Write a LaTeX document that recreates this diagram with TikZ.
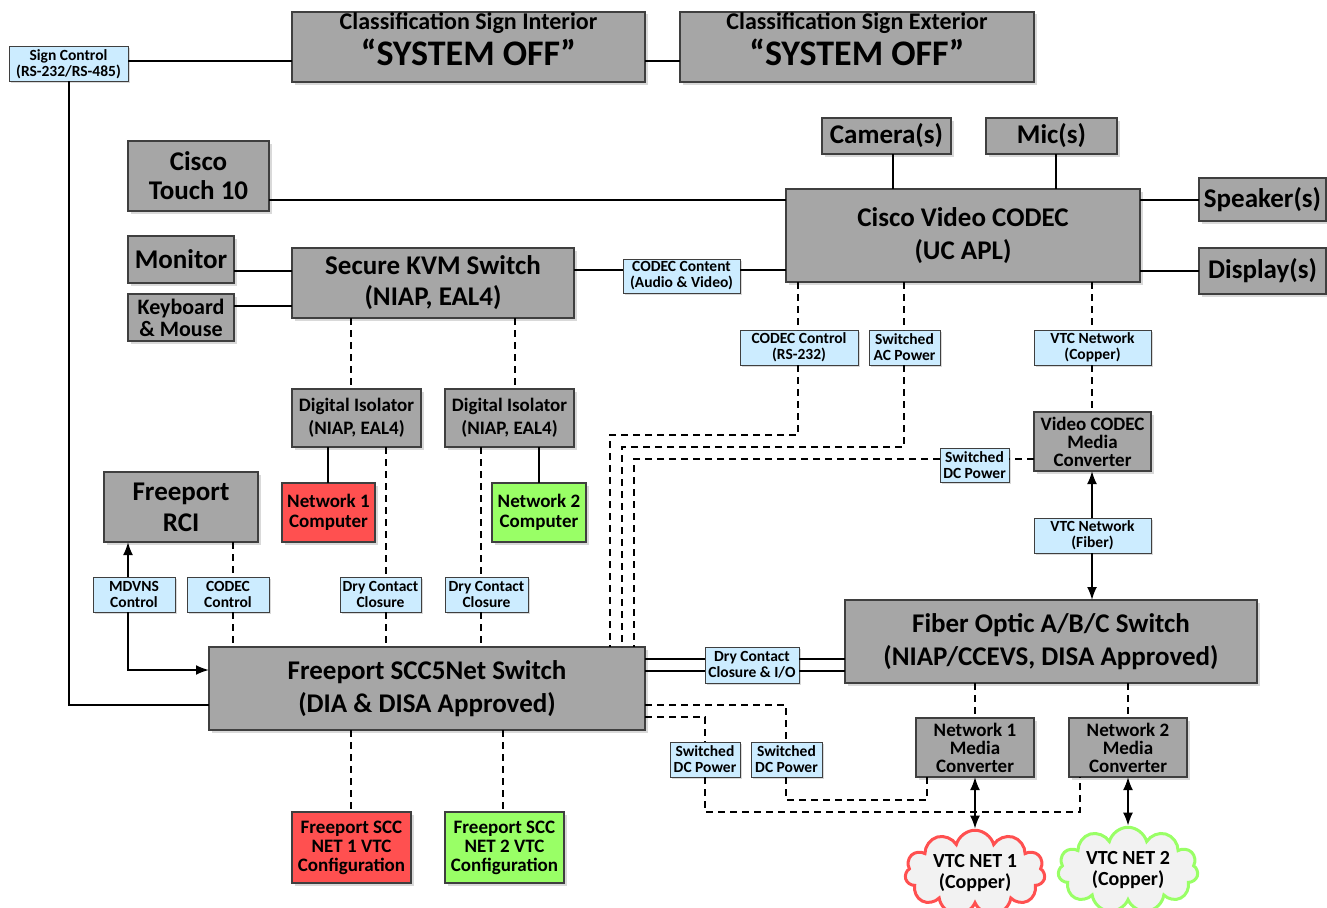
\documentclass[tikz,border=0pt]{standalone}
\usepackage{fontspec}
\setmainfont{Carlito}
\usetikzlibrary{arrows.meta,shapes.symbols,shadows}
\definecolor{boxgray}{HTML}{A6A6A6}
\definecolor{bordergray}{HTML}{3F3F3F}
\definecolor{lblue}{HTML}{CCECFF}
\definecolor{netred}{HTML}{FF5050}
\definecolor{netgreen}{HTML}{99FF66}
\definecolor{cloudfill}{HTML}{F2F2F2}
\newcommand\fsz[2]{\fontsize{#1}{#2}\selectfont}
\newcommand\bx[7]{\node[#6,minimum width={(#4)-(#2)},minimum height={(#5)-(#3)}] (#1) at ({((#2)+(#4))/2},{((#3)+(#5))/2}) {#7};}
\tikzset{
  base/.style={inner sep=0pt,outer sep=0pt,align=center,draw=bordergray,line width=1.3pt},
  gbox/.style={base,fill=boxgray,drop shadow={shadow xshift=2.5pt,shadow yshift=-2.5pt,opacity=0.3}},
  rbox/.style={gbox,fill=netred},
  grbox/.style={gbox,fill=netgreen},
  lbl/.style={base,fill=lblue,line width=1pt,font=\bfseries\fsz{15.5}{16},drop shadow={shadow xshift=1.5pt,shadow yshift=-1.5pt,opacity=0.3}},
  fbig/.style={font=\bfseries\fsz{27}{33}},
  fmid/.style={font=\bfseries\fsz{19}{19}},
  ln/.style={line width=2pt},
  dsh/.style={line width=2pt,dash pattern=on 7pt off 5pt},
  arr/.style={ln,-{Latex[length=13pt,width=10pt]}},
  darr/.style={ln,{Latex[length=13pt,width=10pt]}-{Latex[length=13pt,width=10pt]}},
  cloudnode/.style={cloud,cloud puffs=11,aspect=1.9,fill=cloudfill,line width=3pt,minimum width=140pt,minimum height=76pt,inner sep=0pt,align=center,font=\bfseries\fsz{20}{21}},
}
\begin{document}
\begin{tikzpicture}[x=1pt,y=-1pt]
\useasboundingbox (0,0) rectangle (1327,907);
% nodes
\bx{sign}{9}{47}{128}{81}{lbl}{Sign Control\\(RS-232/RS-485)}
\bx{ci}{292}{12}{645}{82}{gbox,font=\bfseries\fsz{36}{36},text depth=16pt}{{\fsz{24}{36}Classification Sign Interior}\\“SYSTEM OFF”}
\bx{ce}{680}{12}{1034}{82}{gbox,font=\bfseries\fsz{36}{36},text depth=16pt}{{\fsz{24}{36}Classification Sign Exterior}\\“SYSTEM OFF”}
\bx{touch}{128}{141}{269}{211}{gbox,font=\bfseries\fsz{27}{29}}{Cisco\\Touch 10}
\bx{cam}{822}{118}{951}{154}{gbox,fbig}{Camera(s)}
\bx{mic}{986}{118}{1117}{154}{gbox,fbig}{Mic(s)}
\bx{codec}{786}{189}{1140}{282}{gbox,fbig}{Cisco Video CODEC\\(UC APL)}
\bx{spk}{1199}{178}{1326}{221}{gbox,fbig}{Speaker(s)}
\bx{disp}{1199}{248}{1326}{294}{gbox,fbig}{Display(s)}
\bx{mon}{128}{236}{234}{283}{gbox,fbig}{Monitor}
\bx{kbd}{128}{294}{234}{341}{gbox,font=\bfseries\fsz{22}{22}}{Keyboard\\\& Mouse}
\bx{kvm}{292}{248}{574}{318}{gbox,font=\bfseries\fsz{27}{31}}{Secure KVM Switch\\(NIAP, EAL4)}
\bx{cc}{623}{259}{740}{293}{lbl}{CODEC Content\\(Audio \& Video)}
\bx{di1}{292}{389}{421}{447}{gbox,font=\bfseries\fsz{19}{23}}{Digital Isolator\\(NIAP, EAL4)}
\bx{di2}{445}{389}{574}{447}{gbox,font=\bfseries\fsz{19}{23}}{Digital Isolator\\(NIAP, EAL4)}
\bx{n1c}{282}{483}{375}{542}{rbox,font=\bfseries\fsz{19}{20}}{Network 1\\Computer}
\bx{n2c}{492}{483}{586}{542}{grbox,font=\bfseries\fsz{19}{20}}{Network 2\\Computer}
\bx{rci}{104}{472}{258}{542}{gbox,font=\bfseries\fsz{27}{31}}{Freeport\\RCI}
\bx{mdv}{93}{577}{175}{612}{lbl}{MDVNS\\Control}
\bx{ccl}{187}{577}{269}{612}{lbl}{CODEC\\Control}
\bx{dc1}{340}{577}{421}{612}{lbl}{Dry Contact\\Closure}
\bx{dc2}{445}{577}{528}{612}{lbl}{Dry Contact\\Closure}
\bx{fsw}{209}{647}{645}{730}{gbox,fbig}{Freeport SCC5Net Switch\\(DIA \& DISA Approved)}
\bx{cfg1}{292}{812}{411}{883}{rbox,fmid}{Freeport SCC\\NET 1 VTC\\Configuration}
\bx{cfg2}{445}{812}{564}{883}{grbox,fmid}{Freeport SCC\\NET 2 VTC\\Configuration}
\bx{ctl}{740}{330}{858}{365}{lbl}{CODEC Control\\(RS-232)}
\bx{acp}{869}{330}{940}{365}{lbl}{Switched\\AC Power}
\bx{vcu}{1034}{330}{1151}{365}{lbl}{VTC Network\\(Copper)}
\bx{vmc}{1034}{412}{1151}{471}{gbox,font=\bfseries\fsz{19}{18}}{Video CODEC\\Media\\Converter}
\bx{sdc}{940}{448}{1009}{482}{lbl}{Switched\\DC Power}
\bx{vfi}{1034}{518}{1151}{553}{lbl}{VTC Network\\(Fiber)}
\bx{fo}{845}{600}{1257}{683}{gbox,fbig}{Fiber Optic A/B/C Switch\\(NIAP/CCEVS, DISA Approved)}
\bx{dci}{705}{647}{799}{683}{lbl}{Dry Contact\\Closure \& I/O}
\bx{sdc1}{670}{742}{740}{777}{lbl}{Switched\\DC Power}
\bx{sdc2}{751}{742}{822}{777}{lbl}{Switched\\DC Power}
\bx{nm1}{916}{718}{1034}{777}{gbox,font=\bfseries\fsz{19}{18}}{Network 1\\Media\\Converter}
\bx{nm2}{1069}{718}{1187}{777}{gbox,font=\bfseries\fsz{19}{18}}{Network 2\\Media\\Converter}
\node[cloudnode,draw=netred] (cl1) at (975,873) {VTC NET 1\\(Copper)};
\node[cloudnode,draw=netgreen] (cl2) at (1128,870) {VTC NET 2\\(Copper)};
% solid connectors
\draw[ln] (sign.east |- 0,61) -- (ci.west |- 0,61);
\draw[ln] (ci.east |- 0,61) -- (ce.west |- 0,61);
\draw[ln] (sign.south) |- (fsw.west |- 0,705);
\draw[ln] (touch.east |- 0,200) -- (codec.west |- 0,200);
\draw[ln] (cam.south -| 893,0) -- (codec.north -| 893,0);
\draw[ln] (mic.south -| 1056,0) -- (codec.north -| 1056,0);
\draw[ln] (codec.east |- 0,200) -- (spk.west |- 0,200);
\draw[ln] (codec.east |- 0,271) -- (disp.west |- 0,271);
\draw[ln] (mon.east |- 0,271) -- (kvm.west |- 0,271);
\draw[ln] (kbd.east |- 0,306) -- (kvm.west |- 0,306);
\draw[ln] (kvm.east |- 0,270) -- (cc.west |- 0,270);
\draw[ln] (cc.east |- 0,270) -- (codec.west |- 0,270);
\draw[ln] (di1.south -| 328,0) -- (n1c.north -| 328,0);
\draw[ln] (di2.south -| 539,0) -- (n2c.north -| 539,0);
\draw[arr] (mdv.north -| 128,0) -- (rci.south -| 128,0);
\draw[arr] (mdv.south -| 128,0) |- (fsw.west |- 0,670);
\draw[arr] (vfi.north -| 1092,0) -- (vmc.south -| 1092,0);
\draw[arr] (vfi.south -| 1092,0) -- (fo.north -| 1092,0);
\draw[ln] (fsw.east |- 0,659) -- (dci.west |- 0,659);
\draw[ln] (fsw.east |- 0,671) -- (dci.west |- 0,671);
\draw[ln] (dci.east |- 0,659) -- (fo.west |- 0,659);
\draw[ln] (dci.east |- 0,671) -- (fo.west |- 0,671);
\draw[darr] (nm1.south -| 975,0) -- (cl1.north);
\draw[darr] (nm2.south -| 1128,0) -- (cl2.north);
% dashed connectors
\draw[dsh] (kvm.south -| 351,0) -- (di1.north -| 351,0);
\draw[dsh] (kvm.south -| 515,0) -- (di2.north -| 515,0);
\draw[dsh] (di1.south -| 386,0) -- (dc1.north -| 386,0);
\draw[dsh] (dc1.south -| 386,0) -- (fsw.north -| 386,0);
\draw[dsh] (di2.south -| 481,0) -- (dc2.north -| 481,0);
\draw[dsh] (dc2.south -| 481,0) -- (fsw.north -| 481,0);
\draw[dsh] (rci.south -| 233,0) -- (ccl.north -| 233,0);
\draw[dsh] (ccl.south -| 233,0) -- (fsw.north -| 233,0);
\draw[dsh] (fsw.south -| 351,0) -- (cfg1.north -| 351,0);
\draw[dsh] (fsw.south -| 503,0) -- (cfg2.north -| 503,0);
\draw[dsh] (codec.south -| 798,0) -- (ctl.north -| 798,0);
\draw[dsh] (ctl.south -| 798,0) |- (610,435) -- (fsw.north -| 610,0);
\draw[dsh] (codec.south -| 904,0) -- (acp.north -| 904,0);
\draw[dsh] (acp.south -| 904,0) |- (622,447) -- (fsw.north -| 622,0);
\draw[dsh] (codec.south -| 1092,0) -- (vcu.north -| 1092,0);
\draw[dsh] (vcu.south -| 1092,0) -- (vmc.north -| 1092,0);
\draw[dsh] (vmc.west |- 0,459) -- (sdc.east |- 0,459);
\draw[dsh] (sdc.west |- 0,459) -- (634,459) -- (fsw.north -| 634,0);
\draw[dsh] (fsw.east |- 0,705) -| (sdc2.north -| 786,0);
\draw[dsh] (sdc2.south -| 786,0) |- (927,800) -- (nm1.south -| 927,0);
\draw[dsh] (fsw.east |- 0,717) -| (sdc1.north -| 705,0);
\draw[dsh] (sdc1.south -| 705,0) |- (1080,812) -- (nm2.south -| 1080,0);
\draw[dsh] (fo.south -| 975,0) -- (nm1.north -| 975,0);
\draw[dsh] (fo.south -| 1128,0) -- (nm2.north -| 1128,0);
\end{tikzpicture}
\end{document}
